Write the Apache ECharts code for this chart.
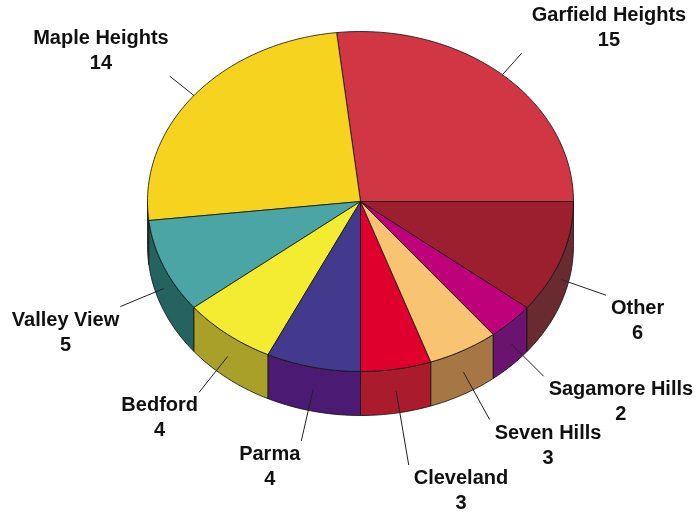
<!DOCTYPE html>
<html>
<head>
<meta charset="utf-8">
<script src="https://cdn.jsdelivr.net/npm/echarts@6/dist/echarts.min.js"></script>
<style>
  html, body { margin: 0; padding: 0; background: #fff; }
  #chart { width: 697px; height: 514px; }
</style>
</head>
<body>
<div id="chart"></div>
<script>
// Slices, counter-clockwise from 3 o'clock
const categories = ['Garfield Heights', 'Maple Heights', 'Valley View', 'Bedford', 'Parma',
                    'Cleveland', 'Seven Hills', 'Sagamore Hills', 'Other'];
const values = [15, 14, 5, 4, 4, 3, 3, 2, 6];

// Top-face and outer-wall colours per slice
const topColors  = ['#D13644', '#F5D31F', '#4BA5A5', '#F4EC30', '#433A8E',
                    '#E0002E', '#F8C471', '#BF007B', '#9B1F2E'];
const sideColors = ['#7A1E26', '#5B4A10', '#256360', '#A9A02A', '#4B1A73',
                    '#A91B2D', '#A67744', '#6A1470', '#6A2B30'];

// Leader line length (px) for each label
const leaderLengths = [29, 31, 47, 46, 53, 75, 54, 46, 47];

const total = values.reduce((a, b) => a + b, 0);
const starts = [];
values.reduce((acc, v) => { starts.push(acc); return acc + v; }, 0);
const sliceData = values.map((v, i) => [starts[i], starts[i] + v, v]);

const DEPTH = 0.259;           // pie thickness in y-axis units (radius = 1)
const FONT = 'bold 20px "Liberation Sans", Arial, sans-serif';
const LINE_H = 25;

const measureCtx = document.createElement('canvas').getContext('2d');
measureCtx.font = FONT;
function textWidth(s) { return measureCtx.measureText(s).width; }

function toAngle(t) { return t / total * Math.PI * 2; }

function arcPoints(api, a, b, dy) {
  const n = Math.max(2, Math.ceil((b - a) / (Math.PI / 120)));
  const pts = [];
  for (let i = 0; i <= n; i++) {
    const t = a + (b - a) * i / n;
    pts.push(api.coord([Math.cos(t), Math.sin(t) - dy]));
  }
  return pts;
}

// Visible outer wall (front half of the cylinder)
function renderWall(params, api) {
  const i = params.dataIndex;
  const a0 = toAngle(api.value(0)), a1 = toAngle(api.value(1));
  const s = Math.max(a0, Math.PI), e = Math.min(a1, Math.PI * 2);
  if (e <= s) return null;
  const top = arcPoints(api, s, e, 0);
  const bot = arcPoints(api, s, e, DEPTH).reverse();
  return {
    type: 'polygon',
    shape: { points: top.concat(bot) },
    style: { fill: sideColors[i], stroke: '#111', lineWidth: 0.8, lineJoin: 'round' }
  };
}

// Top face of each slice
function renderTop(params, api) {
  const i = params.dataIndex;
  const a0 = toAngle(api.value(0)), a1 = toAngle(api.value(1));
  const pts = [api.coord([0, 0])].concat(arcPoints(api, a0, a1, 0));
  return {
    type: 'polygon',
    shape: { points: pts },
    style: { fill: topColors[i], stroke: '#111', lineWidth: 0.8, lineJoin: 'round' }
  };
}

// Leader line and two-line label
function renderLabel(params, api) {
  const i = params.dataIndex;
  const m = (toAngle(api.value(0)) + toAngle(api.value(1))) / 2;
  const lower = Math.sin(m) < 0;
  const inner = api.coord([Math.cos(m), Math.sin(m) - (lower ? DEPTH / 2 : 0)]);
  // leader runs along the slice's own angle on screen
  const dx = Math.cos(m), dy = -Math.sin(m);
  const L = leaderLengths[i];
  const outer = [inner[0] + dx * L, inner[1] + dy * L];
  const name = categories[i];
  const val = String(api.value(2));
  const w = Math.max(textWidth(name), textWidth(val));
  const right = Math.cos(m) > 0;
  const gap = right ? (lower ? 5 : 10) : 1;
  const tx = right ? outer[0] + gap + w / 2 : outer[0] - gap - w / 2;
  return {
    type: 'group',
    children: [
      {
        type: 'line',
        shape: { x1: inner[0], y1: inner[1], x2: outer[0], y2: outer[1] },
        style: { stroke: '#222', lineWidth: 1 }
      },
      {
        type: 'text',
        style: {
          text: name + '\n' + val,
          x: tx,
          y: outer[1] + (lower ? 1 : 0),
          font: FONT,
          fill: '#111',
          align: 'center',
          verticalAlign: lower ? 'top' : 'bottom',
          lineHeight: LINE_H
        }
      }
    ]
  };
}

const chart = echarts.init(document.getElementById('chart'), null, { renderer: 'canvas' });
chart.setOption({
  animation: false,
  backgroundColor: '#ffffff',
  grid: { left: 147.5, top: 31.5, width: 426, height: 340 },
  xAxis: { type: 'value', min: -1, max: 1, show: false },
  yAxis: { type: 'value', min: -1, max: 1, show: false },
  tooltip: { show: false },
  series: [
    { type: 'custom', coordinateSystem: 'cartesian2d', renderItem: renderWall, data: sliceData, z: 1, silent: true },
    { type: 'custom', coordinateSystem: 'cartesian2d', renderItem: renderTop, data: sliceData, z: 2, silent: true },
    { type: 'custom', coordinateSystem: 'cartesian2d', renderItem: renderLabel, data: sliceData, z: 3, silent: true }
  ]
});
</script>
</body>
</html>
